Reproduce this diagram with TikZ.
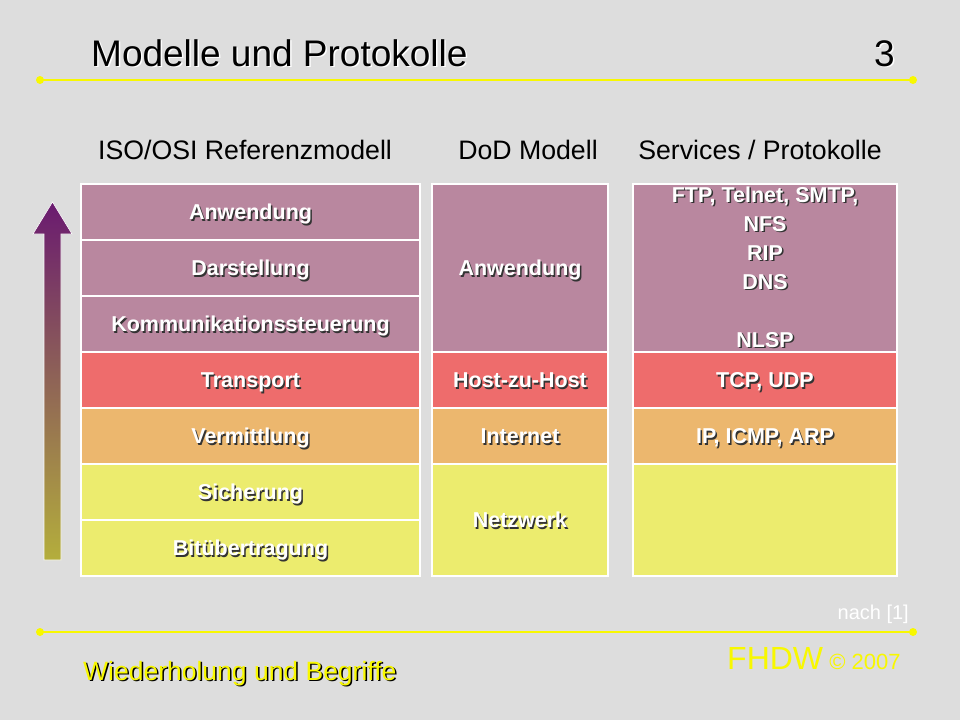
\documentclass[tikz,border=0pt]{standalone}
\usepackage{fontspec}
\setmainfont{Liberation Sans}
\usetikzlibrary{positioning}

\definecolor{slidebg}{HTML}{DDDDDD}
\definecolor{mauve}{HTML}{B9879F}
\definecolor{salmon}{HTML}{EE6C6C}
\definecolor{apricot}{HTML}{ECB76E}
\definecolor{lemon}{HTML}{ECEC6E}
\definecolor{slideyellow}{HTML}{F8F800}
\definecolor{arrowtop}{HTML}{6A1A70}
\definecolor{arrowbot}{HTML}{B4AE3C}

% Text mit Schatten: {Vordergrund}{Schatten}{Text}
\newcommand{\shtxt}[3]{\rlap{\kern1.5pt\raisebox{-1.5pt}{\color{#2}#3}}{\color{#1}#3}}

\begin{document}
\begin{tikzpicture}[x=1pt, y=-1pt,
    layer/.style={rectangle, draw=white, line width=1.2pt, inner sep=0pt, outer sep=0pt,
        font=\fontsize{21.5}{29}\selectfont\bfseries},
    oneline/.style={text height=15.4pt, text depth=0pt},
    header/.style={font=\fontsize{26.7}{30}\selectfont, anchor=base},
    yline/.style={slideyellow, line width=2pt}]
    % Hintergrund
    \useasboundingbox (0,0) rectangle (960,720);
    \fill[slidebg] (0,0) rectangle (960,720);

    % Titel
    \node[anchor=base west, inner sep=0pt, font=\fontsize{37}{40}\selectfont] (title) at (91,66) {\shtxt{black}{white}{Modelle und Protokolle}};
    \node[anchor=base east, inner sep=0pt, font=\fontsize{37}{40}\selectfont] (pagenr) at (895,66) {\shtxt{black}{white}{3}};

    % Linie oben
    \coordinate (tl) at (40,80);
    \coordinate (tr) at (913,80);
    \draw[yline] (tl) -- (tr);
    \fill[slideyellow] (tl) circle (4pt) (tr) circle (4pt);

    % Spaltenkoepfe
    \node[header] (hOSI) at (245,159) {ISO/OSI Referenzmodell};
    \node[header] (hDoD) at (528,159) {DoD Modell};
    \node[header] (hSrv) at (760,159) {Services / Protokolle};

    % Pfeil (von unten nach oben)
    \shade[top color=arrowtop, bottom color=arrowbot, draw=white!90!slidebg, line width=0.6pt]
        (44,560) -- (44,234) -- (33,234) -- (52.5,202) -- (72,234) -- (61,234) -- (61,560) -- cycle;

    % ISO/OSI Schichten
    \foreach \nm/\txt/\col [count=\i from 0] in {anw/Anwendung/mauve, dar/Darstellung/mauve,
        kom/Kommunikationssteuerung/mauve, tra/Transport/salmon, ver/Vermittlung/apricot,
        sic/Sicherung/lemon, bit/Bitübertragung/lemon}
        \node[layer, oneline, fill=\col, minimum width=339pt, minimum height=56pt] (osi-\nm)
            at (250.5,212+56*\i) {\shtxt{white}{black!80}{\txt}};

    % DoD Modell
    \node[layer, oneline, fill=mauve, minimum width=176pt, minimum height=168pt] (dod-anw) at (520,268) {\shtxt{white}{black!80}{Anwendung}};
    \node[layer, oneline, fill=salmon, minimum width=176pt, minimum height=56pt, below=0pt of dod-anw] (dod-host) {\shtxt{white}{black!80}{Host-zu-Host}};
    \node[layer, oneline, fill=apricot, minimum width=176pt, minimum height=56pt, below=0pt of dod-host] (dod-inet) {\shtxt{white}{black!80}{Internet}};
    \node[layer, oneline, fill=lemon, minimum width=176pt, minimum height=112pt, below=0pt of dod-inet] (dod-netz) {\shtxt{white}{black!80}{Netzwerk}};

    % Services / Protokolle
    \node[layer, align=center, fill=mauve, minimum width=264pt, minimum height=168pt] (srv-anw) at (765,268)
        {\shtxt{white}{black!80}{FTP, Telnet, SMTP,}\\\shtxt{white}{black!80}{NFS}\\\shtxt{white}{black!80}{RIP}\\
         \shtxt{white}{black!80}{DNS}\\[29pt]\shtxt{white}{black!80}{NLSP}};
    \node[layer, oneline, fill=salmon, minimum width=264pt, minimum height=56pt, below=0pt of srv-anw] (srv-tcp) {\shtxt{white}{black!80}{TCP, UDP}};
    \node[layer, oneline, fill=apricot, minimum width=264pt, minimum height=56pt, below=0pt of srv-tcp] (srv-ip) {\shtxt{white}{black!80}{IP, ICMP, ARP}};
    \node[layer, fill=lemon, minimum width=264pt, minimum height=112pt, below=0pt of srv-ip] (srv-netz) {};

    % Quelle
    \node[anchor=base east, inner sep=0pt, text=white, font=\fontsize{20}{22}\selectfont] (quelle) at (909,619) {nach [1]};

    % Linie unten
    \coordinate (bl) at (40,632);
    \coordinate (br) at (913,632);
    \draw[yline] (bl) -- (br);
    \fill[slideyellow] (bl) circle (4pt) (br) circle (4pt);

    % Fusszeile
    \node[anchor=base west, inner sep=0pt, text=slideyellow] (fhdw) at (727,669)
        {\fontsize{32}{34}\selectfont FHDW\fontsize{22}{24}\selectfont{} © 2007};
    \node[anchor=base west, inner sep=0pt, font=\fontsize{26.5}{29}\selectfont] (thema) at (83,680)
        {\shtxt{slideyellow}{black}{Wiederholung und Begriffe}};
\end{tikzpicture}
\end{document}
